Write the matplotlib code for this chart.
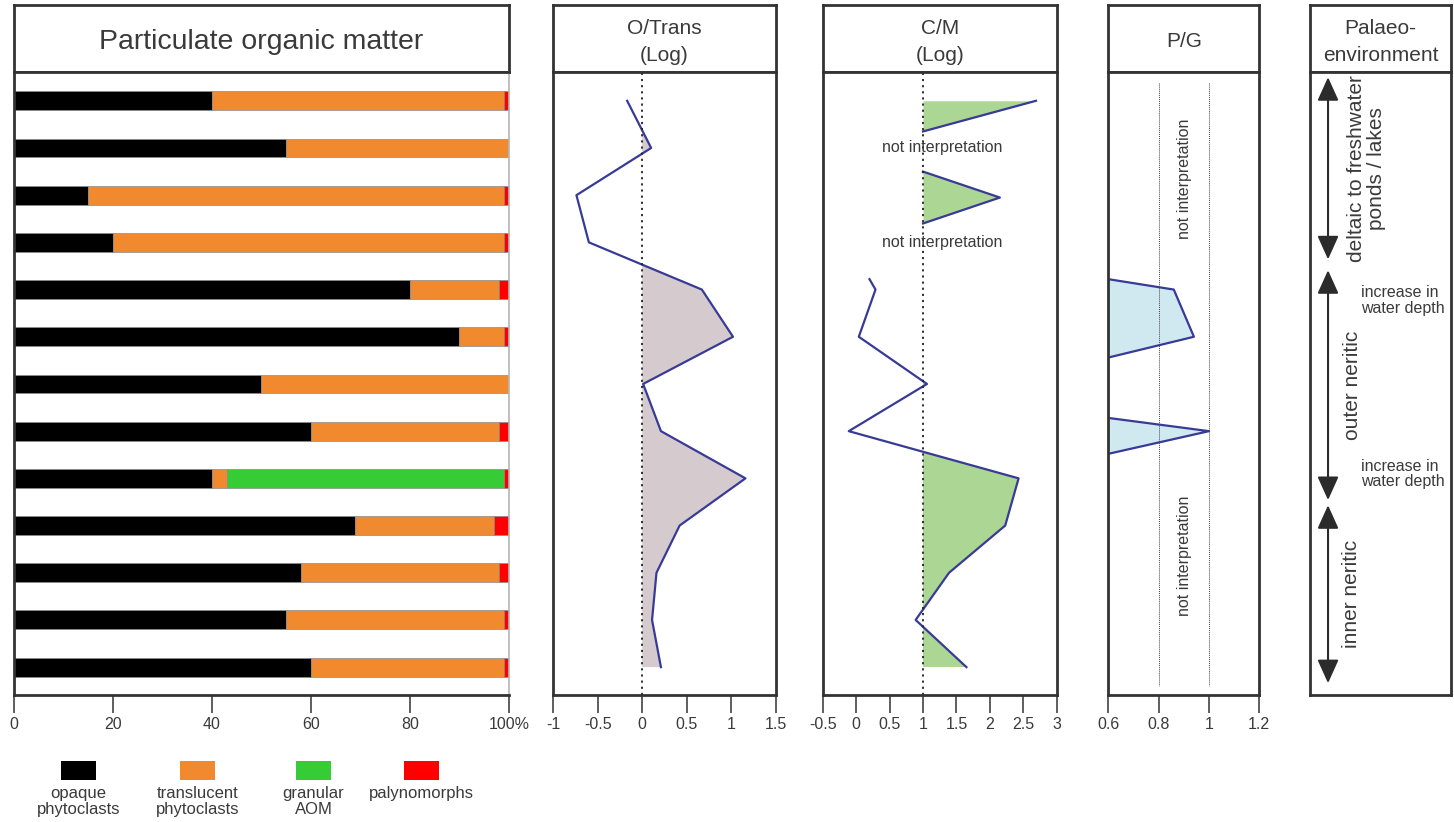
import numpy as np
import matplotlib
matplotlib.use('Agg')
import matplotlib.pyplot as plt
import matplotlib.transforms as mtransforms
from matplotlib.patches import Rectangle, FancyArrowPatch

plt.rcParams['font.family'] = ['Liberation Sans', 'DejaVu Sans']
plt.rcParams['axes.unicode_minus'] = False

# ---- data (samples listed top -> bottom) ----
samples = np.arange(13)

opaque = [40, 55, 15, 20, 80, 90, 50, 60, 40, 69, 58, 55, 60]
translucent = [59, 45, 84, 79, 18, 9, 50, 38, 3, 28, 40, 44, 39]
granular_aom = [0, 0, 0, 0, 0, 0, 0, 0, 56, 0, 0, 0, 0]
palynomorphs = [1, 0, 1, 1, 2, 1, 0, 2, 1, 3, 2, 1, 1]
pom_names = ['opaque\nphytoclasts', 'translucent\nphytoclasts', 'granular\nAOM', 'palynomorphs']
pom_colors = ['#000000', '#f1892f', '#35cc35', '#ff0000']
pom_ticks = [0, 20, 40, 60, 80, 100]
pom_ticklabels = ['0', '20', '40', '60', '80', '100%']

o_trans = [-0.17, 0.10, -0.74, -0.60, 0.67, 1.02, 0.01, 0.21, 1.16, 0.42, 0.16, 0.11, 0.21]
ot_ticks = [-1, -0.5, 0, 0.5, 1, 1.5]
ot_ticklabels = ['-1', '-0.5', '0', '0.5', '1', '1.5']

# C/M only partly interpretable: pieces separated by nan
cm_depth = [0, 0.65, np.nan, 1.5, 2.05, 2.6, np.nan, 3.78, 4, 5, 6, 7, 8, 9, 10, 11, 12]
cm_value = [2.69, 1.0, np.nan, 1.0, 2.15, 1.0, np.nan, 0.2, 0.29, 0.04, 1.06, -0.11, 2.43, 2.23, 1.39, 0.89, 1.65]
cm_ticks = [-0.5, 0, 0.5, 1, 1.5, 2, 2.5, 3]
cm_ticklabels = ['-0.5', '0', '0.5', '1', '1.5', '2', '2.5', '3']
cm_gaps = [1, 3]

pg_depth = [3.78, 4, 5, 5.44, np.nan, 6.72, 7, 7.48]
pg_value = [0.6, 0.86, 0.94, 0.6, np.nan, 0.6, 1.0, 0.6]
pg_ticks = [0.6, 0.8, 1, 1.2]
pg_ticklabels = ['0.6', '0.8', '1', '1.2']
pg_gaps = [1.66, 9.64]

zone_top = [-0.5, 3.59, 8.57]
zone_bottom = [3.36, 8.46, 12.34]
zone_names = ['deltaic to freshwater\nponds / lakes', 'outer neritic', 'inner neritic']
depth_note = 'increase in\nwater depth'
depth_note_at = [4.23, 7.91]

# ---- style ----
W, H = 1454, 822
EDGE = '#333333'
TXT = '#3a3a3a'
LINE = '#383b96'
SPW = 2.0
HDR_TOP, HDR_BOT, AX_BOT = 5, 72, 694.5
YLIM = (12.58, -0.61)

fig = plt.figure(figsize=(W / 100, H / 100), dpi=100)


def box(x0, y0, x1, y1):
    return fig.add_axes([x0 / W, 1 - y1 / H, (x1 - x0) / W, (y1 - y0) / H])


def header(x0, x1, text, size):
    hx = box(x0, HDR_TOP, x1, HDR_BOT)
    hx.set_xticks([])
    hx.set_yticks([])
    for s in hx.spines.values():
        s.set_linewidth(SPW)
        s.set_color(EDGE)
    hx.text(0.5, 0.45, text, ha='center', va='center', fontsize=size,
            color=TXT, linespacing=1.5, transform=hx.transAxes)


def panel(x0, x1, title, size=15):
    header(x0, x1, title, size)
    ax = box(x0, HDR_BOT, x1, AX_BOT)
    ax.set_ylim(*YLIM)
    ax.set_yticks([])
    for s in ax.spines.values():
        s.set_linewidth(SPW)
        s.set_color(EDGE)
    ax.tick_params(axis='x', direction='out', length=13, width=1.1, color=EDGE,
                   labelsize=11.5, labelcolor=TXT, pad=3)
    return ax


def pieces(depth, value):
    d = np.asarray(depth, float)
    v = np.asarray(value, float)
    cut = np.where(np.isnan(d))[0]
    out = []
    for a, b in zip(np.split(d, cut), np.split(v, cut)):
        ok = ~np.isnan(a)
        if ok.sum() > 1:
            out.append((a[ok], b[ok]))
    return out


# ---- particulate organic matter ----
ax1 = panel(13.5, 509, 'Particulate organic matter', 20.5)
left = np.zeros(len(samples))
for vals, col in zip([opaque, translucent, granular_aom, palynomorphs], pom_colors):
    ax1.barh(samples, vals, left=left, height=0.4, color=col,
             edgecolor='#8c8c8c', linewidth=0.5)
    left = left + np.asarray(vals)
ax1.set_xlim(0, 100)
ax1.set_xticks(pom_ticks)
ax1.set_xticklabels(pom_ticklabels)
ax1.spines['right'].set_color('#b5b5b5')
ax1.spines['right'].set_linewidth(1.2)

# ---- O/Trans ----
ax2 = panel(553.3, 775.7, 'O/Trans\n(Log)')
ot = np.asarray(o_trans)
ax2.fill_betweenx(samples, 0, ot, where=ot >= 0, interpolate=True,
                  color='#d5cbcf', linewidth=0)
ax2.plot(ot, samples, color=LINE, lw=1.6)
ax2.axvline(0, color='#222222', lw=1.3, ls=(0, (1.2, 2.2)))
ax2.set_xlim(-1, 1.5)
ax2.set_xticks(ot_ticks)
ax2.set_xticklabels(ot_ticklabels)

# ---- C/M ----
ax3 = panel(822.7, 1056.7, 'C/M\n(Log)')
for d, v in pieces(cm_depth, cm_value):
    ax3.fill_betweenx(d, 1, v, where=v >= 1, interpolate=True,
                      color='#acd694', linewidth=0)
    ax3.plot(v, d, color=LINE, lw=1.6)
ax3.axvline(1, color='#222222', lw=1.3, ls=(0, (1.2, 2.2)))
for g in cm_gaps:
    ax3.text(1.29, g, 'not interpretation', ha='center', va='center',
             fontsize=11.5, color=TXT)
ax3.set_xlim(-0.5, 3)
ax3.set_xticks(cm_ticks)
ax3.set_xticklabels(cm_ticklabels)

# ---- P/G ----
ax4 = panel(1108.4, 1259.3, 'P/G')
for d, v in pieces(pg_depth, pg_value):
    ax4.fill_betweenx(d, 0.6, v, color='#d0e9f0', linewidth=0)
    ax4.plot(v, d, color=LINE, lw=1.6)
ax4.vlines([0.8, 1.0], -0.38, 12.4, color='#444444', lw=0.7, ls=(0, (1, 1)))
for g in pg_gaps:
    ax4.text(0.904, g, 'not interpretation', rotation=90, ha='center',
             va='center', fontsize=11.5, color=TXT)
ax4.set_xlim(0.6, 1.2)
ax4.set_xticks(pg_ticks)
ax4.set_xticklabels(pg_ticklabels)

# ---- palaeoenvironment ----
ax5 = panel(1309.6, 1451.4, 'Palaeo-\nenvironment')
ax5.set_xticks([])
ax5.set_xlim(0, 1)
trans = mtransforms.blended_transform_factory(ax5.transAxes, ax5.transData)
for top, bot in zip(zone_top, zone_bottom):
    ax5.add_patch(FancyArrowPatch((0.13, top), (0.13, bot), transform=trans,
                                  arrowstyle='<|-|>,head_length=1.44,head_width=0.65',
                                  mutation_scale=10, lw=1.5, color='#2b2b2b',
                                  shrinkA=0, shrinkB=0))
name_x = [0.40, 0.306, 0.296]
for name, x, top, bot in zip(zone_names, name_x, zone_top, zone_bottom):
    ax5.text(x, (top + bot) / 2, name, transform=trans, rotation=90,
             ha='center', va='center', multialignment='center',
             fontsize=15, color=TXT, linespacing=1.05)
for y in depth_note_at:
    ax5.text(0.362, y, depth_note, transform=trans, ha='left', va='center',
             fontsize=11.5, color=TXT, linespacing=1.05)

# ---- legend ----
leg = fig.add_axes([0, 0, 1, 1])
leg.set_xlim(0, W)
leg.set_ylim(H, 0)
leg.axis('off')
leg_x = [78.5, 197.5, 313.5, 421.5]
for x, name, col in zip(leg_x, pom_names, pom_colors):
    leg.add_patch(Rectangle((x - 17.5, 761), 35, 19, color=col, lw=0))
    leg.text(x, 786, name, ha='center', va='top', fontsize=12, color=TXT,
             linespacing=1.1)

fig.savefig('out.png', dpi=100)
